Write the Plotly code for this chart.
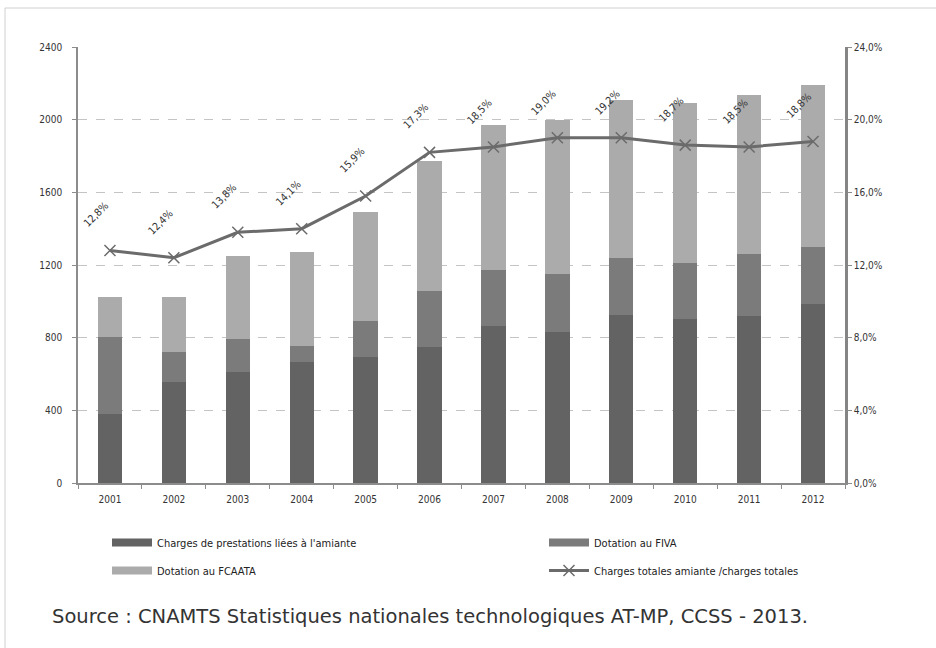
import plotly.graph_objects as go

years = ["2001", "2002", "2003", "2004", "2005", "2006",
         "2007", "2008", "2009", "2010", "2011", "2012"]
# stacked bar components (millions €)
charges_amiante = [380, 555, 610, 668, 695, 750, 866, 833, 927, 905, 921, 988]
dotation_fiva = [426, 168, 185, 88, 199, 309, 304, 315, 309, 308, 337, 309]
dotation_fcaata = [220, 302, 452, 514, 596, 712, 802, 852, 874, 881, 880, 896]
# ratio line (%), right axis
ratio = [12.8, 12.4, 13.8, 14.0, 15.8, 18.2, 18.5, 19.0, 19.0, 18.6, 18.5, 18.8]
ratio_labels = ["12,8%", "12,4%", "13,8%", "14,1%", "15,9%", "17,3%",
                "18,5%", "19,0%", "19,2%", "18,7%", "18,5%", "18,8%"]

left_ticks = [0, 400, 800, 1200, 1600, 2000, 2400]
right_ticks = [0, 4, 8, 12, 16, 20, 24]
right_ticktext = [f"{v:.1f}%".replace(".", ",") for v in right_ticks]

names = ["Charges de prestations liées à l'amiante", "Dotation au FIVA",
         "Dotation au FCAATA", "Charges totales amiante /charges totales"]
colors = ["#636363", "#7b7b7b", "#ababab", "#6b6b6b"]

FONT = "Liberation Sans Narrow, DejaVu Sans Condensed, Arial, sans-serif"
TICKFONT = dict(family="DejaVu Sans Condensed, Liberation Sans Narrow, sans-serif", size=10, color="#333333")

fig = go.Figure()
bw = 0.38
for vals, name, col in zip([charges_amiante, dotation_fiva, dotation_fcaata], names[:3], colors[:3]):
    fig.add_trace(go.Bar(x=years, y=vals, name=name, width=bw, showlegend=False,
                         marker=dict(color=col, line=dict(width=0))))

# legend swatches drawn as wide bands like the original
legend_ids = ["legend", "legend2", "legend"]
for name, col, lg, grp in zip(names[:3], colors[:3], legend_ids, ["a", "b", "c"]):
    fig.add_trace(go.Scatter(x=[None], y=[None], mode="lines", name=name,
                             line=dict(color=col, width=8), legend=lg, legendgroup=grp,
                             hoverinfo="skip"))

fig.add_trace(go.Scatter(x=years, y=ratio, yaxis="y2", mode="lines+markers",
                         name=names[3],
                         line=dict(color=colors[3], width=3),
                         marker=dict(symbol="x-thin-open", size=11, color=colors[3],
                                     line=dict(width=1.5, color=colors[3])),
                         legend="legend2", legendgroup="d"))

for i, (v, lab) in enumerate(zip(ratio, ratio_labels)):
    fig.add_annotation(x=i, y=v, xref="x", yref="y2", text=lab, showarrow=False,
                       textangle=-45, xshift=-14, yshift=36,
                       font=dict(family=TICKFONT["family"], size=10.5, color="#333333"))

legend_common = dict(orientation="v", xref="container", yref="container",
                     xanchor="left", yanchor="top", bgcolor="rgba(0,0,0,0)",
                     font=dict(family=FONT, size=11, color="#222222"),
                     itemwidth=40, tracegroupgap=9, traceorder="grouped")

fig.update_layout(
    width=936, height=648,
    margin=dict(l=78, r=91, t=47, b=165, autoexpand=False),
    paper_bgcolor="white", plot_bgcolor="white",
    barmode="stack",
    separators=", ",
    showlegend=True,
    legend=dict(x=107 / 936, y=(648 - 528) / 648, **legend_common),
    legend2=dict(x=544 / 936, y=(648 - 528) / 648, **legend_common),
    xaxis=dict(type="category", range=[-0.5, len(years) - 0.5], showline=True,
               linecolor="#8c8c8c", linewidth=1.5, ticklabelstandoff=6,
               ticks="outside", tickson="boundaries", ticklen=4, tickcolor="#8c8c8c",
               tickfont=TICKFONT, showgrid=False, tickangle=0),
    yaxis=dict(range=[0, 2400], tickvals=left_ticks, showline=True, linecolor="#8c8c8c",
               linewidth=1.5, ticks="outside", ticklen=4, tickcolor="#8c8c8c",
               ticklabelstandoff=8,
               tickfont=TICKFONT, showgrid=True, gridcolor="#c4c4c4", griddash="dash",
               gridwidth=1, zeroline=False),
    yaxis2=dict(range=[0, 24], tickvals=right_ticks, ticktext=right_ticktext,
                overlaying="y", side="right", showline=True, linecolor="#858585",
                linewidth=2.5, ticks="outside", ticklen=4, tickcolor="#8c8c8c",
                tickfont=TICKFONT, showgrid=False, zeroline=False),
)

fig.add_annotation(text="Source : CNAMTS Statistiques nationales technologiques AT-MP, CCSS - 2013.",
                   xref="paper", yref="paper", x=(50 - 78) / 767, xanchor="left",
                   y=-(616 - 483) / 436, yanchor="middle", showarrow=False,
                   font=dict(family="DejaVu Sans, Verdana, sans-serif", size=19.5, color="#333333"))

# thin outer frame of the figure
fig.add_shape(type="line", xref="paper", yref="paper",
              x0=(5 - 78) / 767, x1=(936 - 78) / 767, y0=(483 - 8) / 436, y1=(483 - 8) / 436,
              line=dict(color="#d0d0d0", width=1))
fig.add_shape(type="line", xref="paper", yref="paper",
              x0=(5 - 78) / 767, x1=(5 - 78) / 767, y0=(483 - 8) / 436, y1=-(648 - 483) / 436,
              line=dict(color="#d0d0d0", width=1))

fig.write_html("out.html")
